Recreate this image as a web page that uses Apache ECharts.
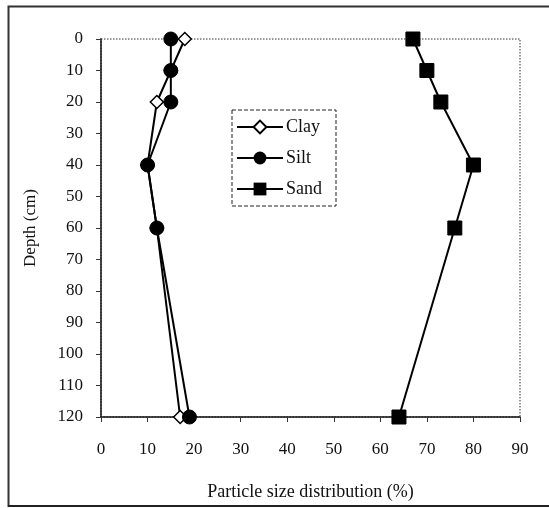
<!DOCTYPE html>
<html>
<head>
<meta charset="utf-8">
<script src="https://cdn.jsdelivr.net/npm/echarts@6/dist/echarts.min.js"></script>
<style>
html,body{margin:0;padding:0;background:#fff;}
#c{width:549px;height:508px;}
</style>
</head>
<body>
<div id="c"></div>
<script>
const depths = [0, 10, 20, 40, 60, 120];
const clay = [18, 15, 12, 10, 12, 17];
const silt = [15, 15, 15, 10, 12, 19];
const sand = [67, 70, 73, 80, 76, 64];
const seriesNames = ['Clay', 'Silt', 'Sand'];
const xTitle = 'Particle size distribution (%)';
const yTitle = 'Depth (cm)';

const font = 'Liberation Serif';
function pairs(vals) { return vals.map((v, i) => [v, depths[i]]); }

const chart = echarts.init(document.getElementById('c'), null, {renderer: 'canvas'});
const common = {
  type: 'line',
  lineStyle: {color: '#000', width: 2},
  z: 3
};
chart.setOption({
  backgroundColor: '#fff',
  animation: false,
  textStyle: {fontFamily: font},
  grid: {left: 101, top: 39, right: 29, bottom: 91, show: true, borderColor: '#777', borderType: 'dotted', borderWidth: 1.5},
  legend: {
    orient: 'vertical',
    left: 232, top: 110,
    data: seriesNames,
    itemWidth: 46, itemHeight: 16, itemGap: 13,
    padding: [8, 14, 8, 4],
    borderColor: '#222', borderWidth: 1, borderType: 'dashed',
    backgroundColor: '#fff',
    textStyle: {fontFamily: font, fontSize: 18, color: '#111', padding: [0, 0, 0, -2]}
  },
  xAxis: {
    type: 'value', min: 0, max: 90, interval: 10,
    name: xTitle, nameLocation: 'middle', nameGap: 66,
    nameTextStyle: {fontFamily: font, fontSize: 18, color: '#111'},
    axisLine: {show: true, onZero: false, lineStyle: {color: '#111', width: 1.5}},
    axisTick: {show: true, length: 5, lineStyle: {color: '#333'}},
    axisLabel: {fontFamily: font, fontSize: 17, color: '#111', margin: 24},
    splitLine: {show: false}
  },
  yAxis: {
    type: 'value', min: 0, max: 120, interval: 10, inverse: true,
    name: yTitle, nameLocation: 'middle', nameGap: 62, nameRotate: 90,
    nameTextStyle: {fontFamily: font, fontSize: 17, color: '#111'},
    axisLine: {show: true, onZero: false, lineStyle: {color: '#111', width: 1.5}},
    axisTick: {show: true, length: 5, lineStyle: {color: '#333'}},
    axisLabel: {fontFamily: font, fontSize: 17, color: '#111', margin: 18},
    splitLine: {show: false}
  },
  graphic: [
    {type: 'polyline', shape: {points: [[8.5, 507], [8.5, 6.5], [549, 6.5]]}, style: {stroke: '#333', lineWidth: 2, fill: null}},
    {type: 'line', shape: {x1: 8, y1: 506, x2: 549, y2: 506}, style: {stroke: '#222', lineWidth: 2}}
  ],
  series: [
    Object.assign({}, common, {name: seriesNames[0], data: pairs(clay), symbol: 'diamond', symbolSize: 13,
      itemStyle: {color: '#fff', borderColor: '#000', borderWidth: 1.5}, z: 4}),
    Object.assign({}, common, {name: seriesNames[1], data: pairs(silt), symbol: 'circle', symbolSize: 14,
      itemStyle: {color: '#000', borderColor: '#000'}, z: 5}),
    Object.assign({}, common, {name: seriesNames[2], data: pairs(sand), symbol: 'rect', symbolSize: 14,
      itemStyle: {color: '#000', borderColor: '#000'}})
  ]
});
</script>
</body>
</html>
